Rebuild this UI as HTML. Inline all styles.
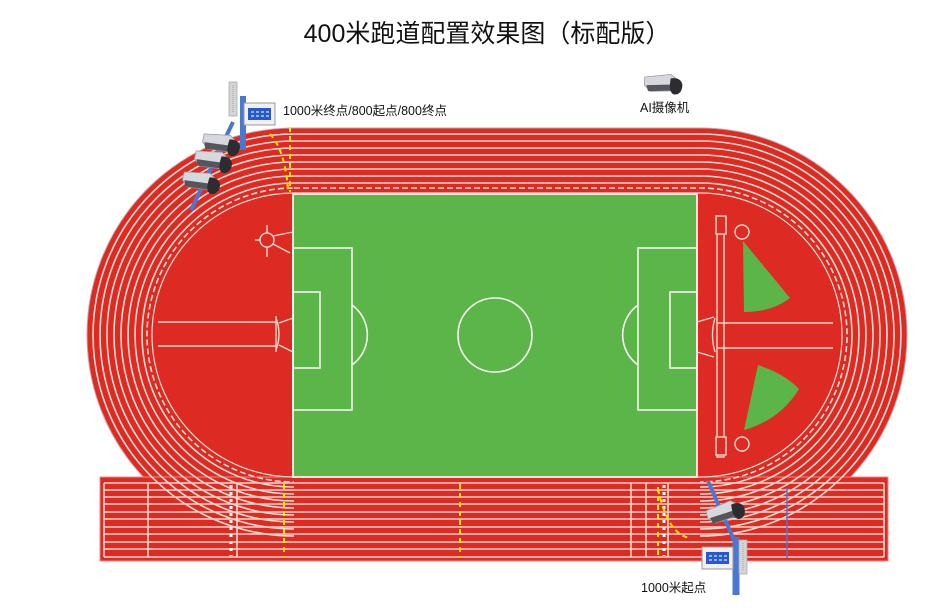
<!DOCTYPE html>
<html><head><meta charset="utf-8"><style>
html,body{margin:0;padding:0;background:#fff;width:941px;height:615px;overflow:hidden}
svg{display:block}
text{font-family:"Liberation Sans","Noto Sans CJK SC",sans-serif}
</style></head><body>
<svg width="941" height="615" viewBox="0 0 941 615" xmlns="http://www.w3.org/2000/svg">
<defs>
<clipPath id="noStraight">
 <path d="M0,0H941V615H0Z M294,478V615H700V478Z" clip-rule="evenodd"/>
</clipPath>
<g id="cam">
 <path d="M0,4 L26,0 L34,6 L34,16 L6,18 L0,12 Z" fill="#d7d7de" stroke="#9a9aa5" stroke-width="0.8"/>
 <path d="M2,12 L30,10 L30,16 L4,18 Z" fill="#55565c"/>
 <path d="M26,4 Q36,2 38,10 Q38,20 30,20 Q24,18 26,4 Z" fill="#2c2d33"/>
</g>
<g id="disp">
 <rect x="0" y="0" width="31" height="22" fill="#f0f0f0" stroke="#999" stroke-width="1"/>
 <rect x="4" y="5" width="23" height="12" fill="#2a57c9"/>
 <g fill="#8fb3ff"><rect x="7" y="8" width="3" height="2"/><rect x="12" y="8" width="3" height="2"/><rect x="17" y="8" width="3" height="2"/><rect x="22" y="8" width="3" height="2"/><rect x="7" y="12" width="3" height="2"/><rect x="12" y="12" width="3" height="2"/><rect x="17" y="12" width="3" height="2"/><rect x="22" y="12" width="3" height="2"/></g>
</g>
<g id="spk"><rect x="0" y="0" width="8" height="34" fill="#d4d4d4" stroke="#aaa" stroke-width="0.8"/><line x1="4" y1="3" x2="4" y2="31" stroke="#bbb" stroke-width="2" stroke-dasharray="1,1"/></g>
</defs>

<text x="487" y="42" font-size="25" text-anchor="middle" fill="#111">400米跑道配置效果图（标配版）</text>

<!-- stadium -->
<path d="M294,128H700A207,207 0 0 1 700,542H294A207,207 0 0 1 294,128Z" fill="#dd2a22" stroke="#c9a0a0" stroke-width="1"/>
<!-- straight rectangle -->
<rect x="100" y="477" width="788" height="84" fill="#de2a22" stroke="#e88" stroke-width="1"/>
<!-- rectangle lines -->
<g stroke="#f1d8cc" stroke-width="1.6">
<line x1="104" y1="483" x2="884" y2="483"/><line x1="104" y1="490" x2="884" y2="490"/><line x1="104" y1="497" x2="884" y2="497"/><line x1="104" y1="504" x2="884" y2="504"/><line x1="104" y1="512" x2="884" y2="512"/><line x1="104" y1="519" x2="884" y2="519"/><line x1="104" y1="527" x2="884" y2="527"/><line x1="104" y1="534" x2="884" y2="534"/><line x1="104" y1="542" x2="884" y2="542"/><line x1="104" y1="549" x2="884" y2="549"/><line x1="104" y1="557" x2="884" y2="557"/>
<line x1="104" y1="483" x2="104" y2="557"/><line x1="884" y1="483" x2="884" y2="557"/>
<line x1="148" y1="483" x2="148" y2="557"/><line x1="237" y1="483" x2="237" y2="557"/>
<line x1="631" y1="483" x2="631" y2="557"/><line x1="646" y1="483" x2="646" y2="557"/><line x1="668" y1="483" x2="668" y2="557"/>
</g>
<g stroke="#fff" stroke-width="3" stroke-dasharray="3,4"><line x1="231" y1="485" x2="231" y2="556"/><line x1="664" y1="485" x2="664" y2="556"/></g>
<!-- lane lines -->
<g fill="none" stroke="#f3ddd2" stroke-width="1.6" clip-path="url(#noStraight)">
<path d="M294,134H700A201,201 0 0 1 700,536H294A201,201 0 0 1 294,134Z"/>
<path d="M294,141H700A194,194 0 0 1 700,529H294A194,194 0 0 1 294,141Z"/>
<path d="M294,148H700A187,187 0 0 1 700,522H294A187,187 0 0 1 294,148Z"/>
<path d="M294,155H700A180,180 0 0 1 700,515H294A180,180 0 0 1 294,155Z"/>
<path d="M294,162H700A173,173 0 0 1 700,508H294A173,173 0 0 1 294,162Z"/>
<path d="M294,169H700A166,166 0 0 1 700,501H294A166,166 0 0 1 294,169Z"/>
<path d="M294,176H700A159,159 0 0 1 700,494H294A159,159 0 0 1 294,176Z"/>
<path d="M294,183H700A152,152 0 0 1 700,487H294A152,152 0 0 1 294,183Z"/>
<path d="M294,188H700A147,147 0 0 1 700,482H294A147,147 0 0 1 294,188Z" stroke-dasharray="6,3"/>
<path d="M294,193H700A142,142 0 0 1 700,477H294A142,142 0 0 1 294,193Z" stroke-width="1.2"/>
</g>
<!-- field -->
<rect x="293" y="194" width="404" height="283" fill="#5cb548" stroke="#f2e6da" stroke-width="2"/>
<g fill="none" stroke="#f4f4f0" stroke-width="1.6">
<rect x="293" y="248" width="59" height="162"/><rect x="293" y="292" width="27" height="76"/>
<path d="M352,305 A37,37 0 0 1 352,365"/>
<rect x="638" y="248" width="59" height="162"/><rect x="670" y="292" width="27" height="76"/>
<path d="M638,305 A37,37 0 0 0 638,365"/>
<circle cx="495" cy="335" r="37"/>
</g>
<!-- left infield -->
<g fill="none" stroke="#f2d8cc" stroke-width="1.4">
<line x1="158" y1="322" x2="276" y2="322"/><line x1="158" y1="346" x2="276" y2="346"/>
<path d="M276,318 Q282,334 276,350"/><line x1="276" y1="316" x2="276" y2="352"/>
<line x1="279" y1="323" x2="293" y2="318"/><line x1="279" y1="345" x2="293" y2="352"/>
<circle cx="267" cy="240" r="7"/><line x1="267" y1="225" x2="267" y2="233"/><line x1="267" y1="247" x2="267" y2="257"/><line x1="255" y1="240" x2="260" y2="240"/><line x1="273" y1="236" x2="293" y2="232"/><line x1="273" y1="244" x2="290" y2="253"/>
</g>
<!-- right infield -->
<g fill="none" stroke="#f2d8cc" stroke-width="1.4">
<rect x="717" y="216" width="7" height="241"/>
<rect x="716" y="216" width="10" height="18" fill="#dd2a22"/><rect x="716" y="437" width="10" height="18" fill="#dd2a22"/>
<circle cx="742" cy="232" r="7"/><circle cx="742" cy="444" r="7"/>
<line x1="717" y1="323" x2="833" y2="323"/><line x1="717" y1="348" x2="833" y2="348"/>
<path d="M715,318 Q710,335 715,352"/>
<line x1="697" y1="322" x2="714" y2="317"/><line x1="697" y1="352" x2="714" y2="357"/>
</g>
<path d="M743,241 L744,312 Q772,312 790,298 Z" fill="#5cb548"/>
<path d="M744,430 L758,365 Q785,374 799,389 Q780,420 744,430 Z" fill="#5cb548"/>
<!-- yellow dashed -->
<g fill="none" stroke="#ffe600" stroke-width="2" stroke-dasharray="5,4">
<line x1="290" y1="127" x2="290" y2="192"/>
<path d="M270,134 Q285,150 288,190"/>
<line x1="284" y1="484" x2="284" y2="557"/>
<line x1="460" y1="484" x2="460" y2="557"/>
<line x1="658" y1="487" x2="658" y2="557"/>
<path d="M658,489 Q668,535 690,538"/>
</g>
<!-- top-left devices -->
<g stroke="#4a78d0" stroke-linecap="butt">
<line x1="243" y1="96" x2="243" y2="150" stroke-width="6"/>
<line x1="233" y1="122" x2="191" y2="210" stroke-width="4"/>
</g>
<use href="#spk" x="229" y="82"/>
<use href="#disp" x="244" y="103"/>
<use href="#cam" transform="translate(205,130) rotate(12)"/>
<use href="#cam" transform="translate(197,147) rotate(12)"/>
<use href="#cam" transform="translate(185,168) rotate(12)"/>
<text x="283" y="115" font-size="12.5" fill="#111">1000米终点/800起点/800终点</text>
<!-- AI camera -->
<use href="#cam" transform="translate(645,73) rotate(3)"/>
<text x="640" y="112" font-size="12.5" fill="#111">AI摄像机</text>
<!-- bottom right devices -->
<g stroke="#4a78d0">
<path d="M708,481 L734,540" stroke-width="4" fill="none"/>
<line x1="736" y1="537" x2="736" y2="595" stroke-width="7"/>
<line x1="787" y1="488" x2="787" y2="558" stroke-width="1.5"/>
</g>
<use href="#cam" transform="translate(705,507) rotate(-14)"/>
<use href="#disp" x="702" y="547"/>
<use href="#spk" x="739" y="540"/>
<text x="641" y="592" font-size="12.5" fill="#111">1000米起点</text>
</svg>
</body></html>
